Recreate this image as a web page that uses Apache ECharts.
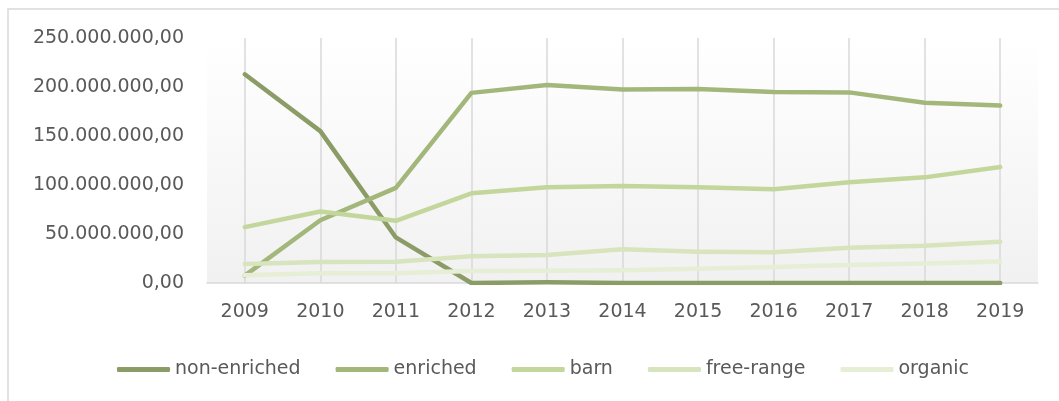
<!DOCTYPE html>
<html>
<head>
<meta charset="utf-8">
<script src="https://cdn.jsdelivr.net/npm/echarts@6/dist/echarts.min.js"></script>
<style>
  html, body { margin: 0; padding: 0; background: #fff; }
  #chart { width: 1059px; height: 401px; }
</style>
</head>
<body>
<div id="chart"></div>
<script>
const years = ['2009', '2010', '2011', '2012', '2013', '2014', '2015', '2016', '2017', '2018', '2019']

const nonEnriched = [213000000, 155000000, 46500000, 0, 800000, 0, 0, 0, 0, 0, 0]
const enriched = [7500000, 64000000, 97000000, 194000000, 202000000, 197500000, 198000000, 195000000, 194500000, 184000000, 181000000]
const barn = [57000000, 73000000, 63500000, 91500000, 97700000, 99000000, 97700000, 95600000, 102700000, 107800000, 118400000]
const freeRange = [19400000, 21400000, 21800000, 27200000, 28600000, 34400000, 32000000, 31300000, 36000000, 38000000, 42000000]
const organic = [8000000, 9900000, 9900000, 12200000, 12600000, 12900000, 14600000, 16300000, 18400000, 20000000, 22000000]

const colors = ['#8b9c66', '#a3b77b', '#c3d69b', '#d7e4bd', '#e6eed5']
const fontFamily = 'DejaVu Sans'

// 250000000 -> "250.000.000,00"
function fmt(v) {
  const s = Math.round(v).toString().replace(/\B(?=(\d{3})+(?!\d))/g, '.')
  return s + ',00'
}

function line(name, data, color) {
  return {
    name,
    type: 'line',
    data,
    symbol: 'none',
    lineStyle: { color, width: 4.5, cap: 'round', join: 'round' },
    itemStyle: { color },
    animation: false
  }
}

const chart = echarts.init(document.getElementById('chart'))

chart.setOption({
  color: colors,
  graphic: [{
    type: 'rect',
    shape: { x: 8, y: 9, width: 1200, height: 600 },
    style: { fill: 'none', stroke: '#d9d9d9', lineWidth: 1.5 },
    silent: true
  }],
  grid: {
    left: 207,
    right: 21,
    top: 38,
    bottom: 118,
    show: true,
    borderWidth: 0,
    backgroundColor: {
      type: 'linear', x: 0, y: 0, x2: 0, y2: 1,
      colorStops: [{ offset: 0, color: '#ffffff' }, { offset: 1, color: '#f1f1f1' }]
    }
  },
  legend: {
    left: 117,
    top: 360,
    padding: 0,
    icon: 'roundRect',
    itemWidth: 53,
    itemHeight: 5,
    itemGap: 35,
    textStyle: { fontFamily, fontSize: 19, color: '#595959' },
    data: ['non-enriched', 'enriched', 'barn', 'free-range', 'organic']
  },
  xAxis: {
    type: 'category',
    data: years,
    boundaryGap: true,
    axisLine: { lineStyle: { color: '#d9d9d9', width: 1.5 } },
    axisTick: { show: false },
    axisLabel: { fontFamily, fontSize: 19, color: '#595959', margin: 20 },
    splitLine: { show: true, alignWithLabel: true, lineStyle: { color: '#d9d9d9', width: 1.5 } }
  },
  yAxis: {
    type: 'value',
    min: 0,
    max: 250000000,
    interval: 50000000,
    axisLine: { show: false },
    axisTick: { show: false },
    splitLine: { show: false },
    axisLabel: { fontFamily, fontSize: 19, color: '#595959', margin: 23, formatter: fmt }
  },
  series: [
    line('non-enriched', nonEnriched, colors[0]),
    line('enriched', enriched, colors[1]),
    line('barn', barn, colors[2]),
    line('free-range', freeRange, colors[3]),
    line('organic', organic, colors[4])
  ]
})
</script>
</body>
</html>
